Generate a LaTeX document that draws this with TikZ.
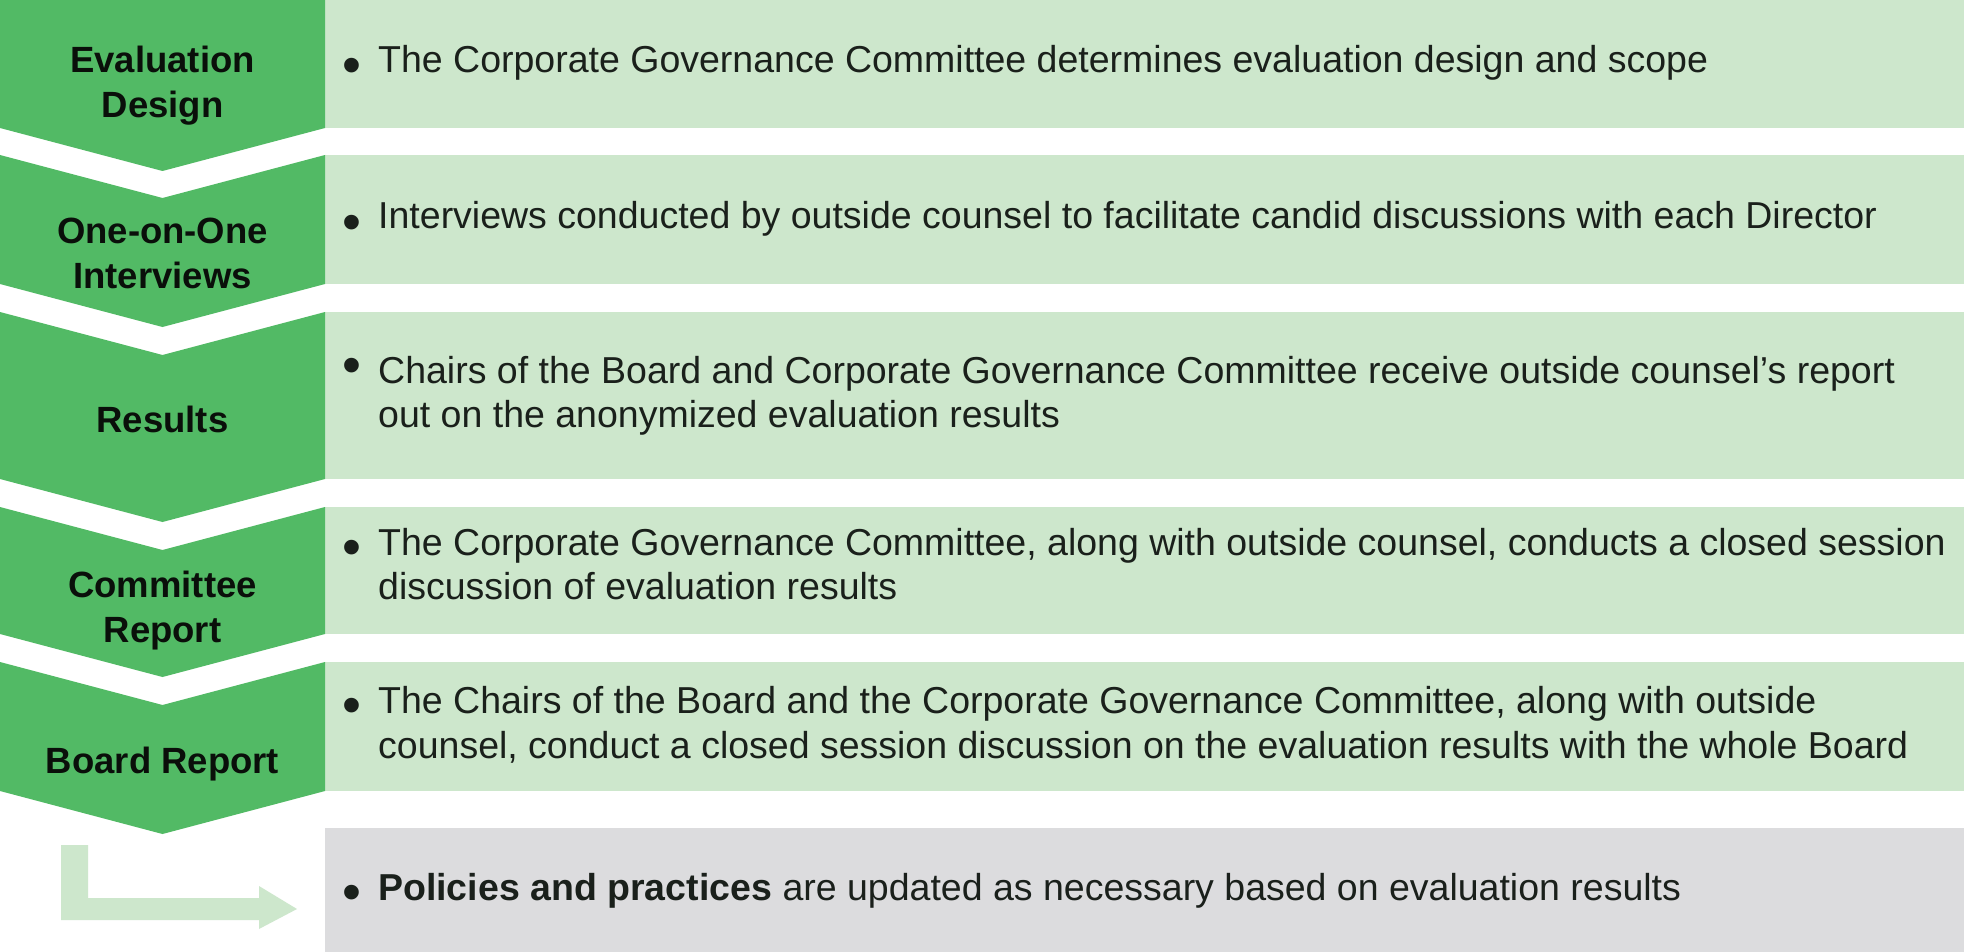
\documentclass[tikz,border=0pt]{standalone}
\usepackage{fontspec}
\setmainfont{Liberation Sans}
\definecolor{dkgreen}{HTML}{52BA65}
\definecolor{ltgreen}{HTML}{CDE7CC}
\definecolor{ltgray}{HTML}{DCDCDE}
\definecolor{bodycol}{HTML}{1A201B}
\definecolor{labelcol}{HTML}{0A0F0A}
\begin{document}
\begin{tikzpicture}[x=1pt,y=-1pt,
  lbl/.style={font=\fontsize{36.5}{44}\selectfont\bfseries, anchor=base, inner sep=0pt, text=labelcol},
  body/.style={font=\fontsize{37.5}{44}\selectfont, anchor=base west, inner sep=0pt, text=bodycol},
  bul/.style={font=\fontsize{54}{60}\selectfont, anchor=center, inner sep=0pt, text=bodycol},
  chev/.style={fill=dkgreen, draw=none},
  panel/.style={fill=ltgreen, draw=none},
  gpanel/.style={fill=ltgray, draw=none}]
\useasboundingbox (0,0) rectangle (1964,952);
\fill[white] (0,0) rectangle (1964,952);

% light panels
\fill[panel] (325,0) rectangle (1964,128);
\fill[panel] (325,155) rectangle (1964,284);
\fill[panel] (325,312) rectangle (1964,479);
\fill[panel] (325,507) rectangle (1964,634);
\fill[panel] (325,662) rectangle (1964,791);
\fill[gpanel] (325,828) rectangle (1964,952);

% chevrons
\fill[chev] (0,0) -- (325,0) -- (325,128) -- (162.5,171) -- (0,128) -- cycle;
\fill[chev] (0,155) -- (162.5,198) -- (325,155) -- (325,284) -- (162.5,327) -- (0,284) -- cycle;
\fill[chev] (0,312) -- (162.5,355) -- (325,312) -- (325,479) -- (162.5,522) -- (0,479) -- cycle;
\fill[chev] (0,507) -- (162.5,550) -- (325,507) -- (325,634) -- (162.5,677) -- (0,634) -- cycle;
\fill[chev] (0,662) -- (162.5,705) -- (325,662) -- (325,791) -- (162.5,834) -- (0,791) -- cycle;

% L arrow
\fill[ltgreen] (61,845) -- (88,845) -- (88,898) -- (259,898) -- (259,886) -- (297,909) -- (259,929) -- (259,920) -- (61,920) -- cycle;

% labels
\node[lbl] (l1a) at (162.5,73) {Evaluation};
\node[lbl] (l1b) at (162.5,118) {Design};
\node[lbl] (l2a) at (162.5,243) {One-on-One};
\node[lbl] (l2b) at (162.5,288) {Interviews};
\node[lbl] (l3) at (162.5,432) {Results};
\node[lbl] (l4a) at (162.5,597) {Committee};
\node[lbl] (l4b) at (162.5,642) {Report};
\node[lbl] (l5) at (162.5,773) {Board Report};

% bullets
\node[bul] (b1) at (352,71) {•};
\node[bul] (b2) at (352,228) {•};
\node[bul] (b3) at (352,371) {•};
\node[bul] (b4) at (352,553) {•};
\node[bul] (b5) at (352,711) {•};
\node[bul] (b6) at (352,898) {•};

% body text
\node[body] (t1) at (378,73) {The Corporate Governance Committee determines evaluation design and scope};
\node[body] (t2) at (378,229) {Interviews conducted by outside counsel to facilitate candid discussions with each Director};
\node[body] (t3a) at (378,383) {Chairs of the Board and Corporate Governance Committee receive outside counsel’s report};
\node[body] (t3b) at (378,427) {out on the anonymized evaluation results};
\node[body] (t4a) at (378,555) {The Corporate Governance Committee, along with outside counsel, conducts a closed session};
\node[body] (t4b) at (378,599) {discussion of evaluation results};
\node[body] (t5a) at (378,713) {The Chairs of the Board and the Corporate Governance Committee, along with outside};
\node[body] (t5b) at (378,758) {counsel, conduct a closed session discussion on the evaluation results with the whole Board};
\node[body] (t6) at (378,900) {\textbf{Policies and practices} are updated as necessary based on evaluation results};
\end{tikzpicture}
\end{document}
